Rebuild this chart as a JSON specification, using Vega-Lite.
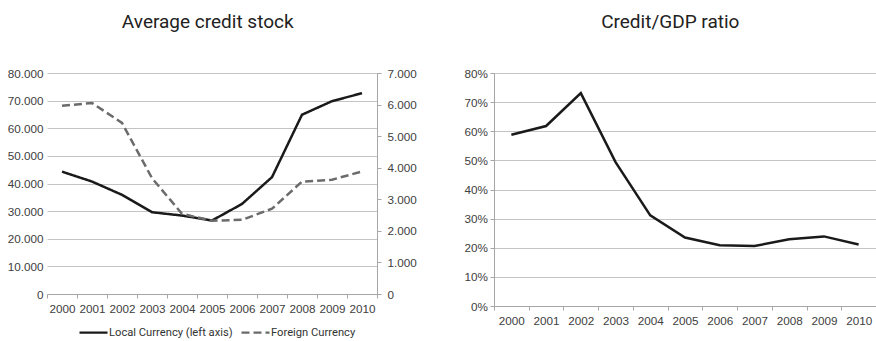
{
  "$schema": "https://vega.github.io/schema/vega-lite/v6.json",
  "padding": {"left": 7, "top": 13, "right": 1, "bottom": 0},
  "background": "white",
  "spacing": 47,
  "config": {
    "locale": {"number": {"decimal": ",", "thousands": ".", "grouping": [3], "currency": ["", " €"]}},
    "view": {"stroke": null},
    "font": "Liberation Sans",
    "title": {"font": "Roboto", "fontSize": 19, "fontWeight": "normal", "color": "#222222", "anchor": "middle", "frame": "bounds", "offset": 36},
    "axis": {"labelFont": "Liberation Sans", "labelFontSize": 11.7, "labelColor": "#404040", "title": null, "domainColor": "#a6a6a6", "tickColor": "#a6a6a6", "gridColor": "#c4c4c4", "gridWidth": 1, "tickSize": 4}
  },
  "datasets": {
    "stock": [
      {"year": "2000", "series": "Local Currency (left axis)", "value": 44300},
      {"year": "2001", "series": "Local Currency (left axis)", "value": 40700},
      {"year": "2002", "series": "Local Currency (left axis)", "value": 35900},
      {"year": "2003", "series": "Local Currency (left axis)", "value": 29600},
      {"year": "2004", "series": "Local Currency (left axis)", "value": 28400},
      {"year": "2005", "series": "Local Currency (left axis)", "value": 26600},
      {"year": "2006", "series": "Local Currency (left axis)", "value": 32600},
      {"year": "2007", "series": "Local Currency (left axis)", "value": 42300},
      {"year": "2008", "series": "Local Currency (left axis)", "value": 64900},
      {"year": "2009", "series": "Local Currency (left axis)", "value": 69800},
      {"year": "2010", "series": "Local Currency (left axis)", "value": 72700},
      {"year": "2000", "series": "Foreign Currency", "value": 5960},
      {"year": "2001", "series": "Foreign Currency", "value": 6050},
      {"year": "2002", "series": "Foreign Currency", "value": 5420},
      {"year": "2003", "series": "Foreign Currency", "value": 3670},
      {"year": "2004", "series": "Foreign Currency", "value": 2540},
      {"year": "2005", "series": "Foreign Currency", "value": 2320},
      {"year": "2006", "series": "Foreign Currency", "value": 2350},
      {"year": "2007", "series": "Foreign Currency", "value": 2700},
      {"year": "2008", "series": "Foreign Currency", "value": 3560},
      {"year": "2009", "series": "Foreign Currency", "value": 3620},
      {"year": "2010", "series": "Foreign Currency", "value": 3880}
    ],
    "ratio": [
      {"year": "2000", "ratio": 0.588},
      {"year": "2001", "ratio": 0.618},
      {"year": "2002", "ratio": 0.731},
      {"year": "2003", "ratio": 0.494},
      {"year": "2004", "ratio": 0.311},
      {"year": "2005", "ratio": 0.235},
      {"year": "2006", "ratio": 0.209},
      {"year": "2007", "ratio": 0.206},
      {"year": "2008", "ratio": 0.229},
      {"year": "2009", "ratio": 0.239},
      {"year": "2010", "ratio": 0.211}
    ]
  },
  "hconcat": [
    {
      "title": {"text": "Average credit stock", "dx": -4},
      "width": 330,
      "height": 221,
      "data": {"name": "stock"},
      "encoding": {
        "x": {
          "field": "year", "type": "ordinal",
          "scale": {"type": "band", "paddingInner": 0, "paddingOuter": 0},
          "axis": {"labelAngle": 0, "tickBand": "extent", "labelPadding": 5, "grid": false}
        },
        "color": {
          "field": "series", "type": "nominal",
          "scale": {"domain": ["Local Currency (left axis)", "Foreign Currency"], "range": ["#1a1a1a", "#6b6b6b"]},
          "legend": {
            "orient": "bottom", "direction": "horizontal", "title": null,
            "symbolType": "stroke", "symbolSize": 784, "symbolStrokeWidth": 2.2,
            "labelFont": "Roboto", "labelFontSize": 11.2, "labelColor": "#333333",
            "labelOffset": 0, "columnPadding": 4, "padding": 31, "offset": -41
          }
        },
        "strokeDash": {
          "field": "series", "type": "nominal",
          "scale": {"domain": ["Local Currency (left axis)", "Foreign Currency"], "range": [[1, 0], [8, 4]]},
          "legend": null
        }
      },
      "layer": [
        {
          "transform": [{"filter": "datum.series === 'Local Currency (left axis)'"}],
          "mark": {"type": "line", "strokeWidth": 2.5},
          "encoding": {
            "y": {
              "field": "value", "type": "quantitative",
              "scale": {"domain": [0, 80000], "nice": false},
              "axis": {"orient": "left", "values": [0, 10000, 20000, 30000, 40000, 50000, 60000, 70000, 80000], "format": ",d", "grid": true, "domain": false, "ticks": false, "labelPadding": 4}
            }
          }
        },
        {
          "transform": [{"filter": "datum.series === 'Foreign Currency'"}],
          "mark": {"type": "line", "strokeWidth": 2.5},
          "encoding": {
            "y": {
              "field": "value", "type": "quantitative",
              "scale": {"domain": [0, 7000], "nice": false},
              "axis": {"orient": "right", "values": [0, 1000, 2000, 3000, 4000, 5000, 6000, 7000], "format": ",d", "grid": false, "domain": true, "ticks": true, "labelPadding": 6}
            }
          }
        }
      ],
      "resolve": {"scale": {"y": "independent"}}
    },
    {
      "title": {"text": "Credit/GDP ratio"},
      "width": 382,
      "height": 233,
      "data": {"name": "ratio"},
      "mark": {"type": "line", "strokeWidth": 2.5, "color": "#1a1a1a"},
      "encoding": {
        "x": {
          "field": "year", "type": "ordinal",
          "scale": {"type": "band", "paddingInner": 0, "paddingOuter": 0},
          "axis": {"labelAngle": 0, "tickBand": "extent", "labelPadding": 5, "grid": false}
        },
        "y": {
          "field": "ratio", "type": "quantitative",
          "scale": {"domain": [0, 0.8], "nice": false},
          "axis": {"values": [0, 0.1, 0.2, 0.3, 0.4, 0.5, 0.6, 0.7, 0.8], "format": ".0%", "grid": true, "domain": true, "ticks": true, "labelPadding": 2.5}
        }
      }
    }
  ]
}
